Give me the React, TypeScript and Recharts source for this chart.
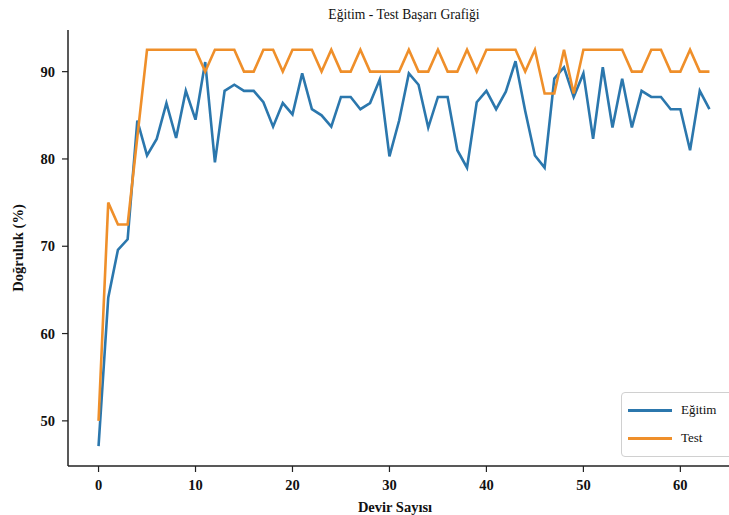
import React from "react";
import {
  LineChart,
  Line,
  XAxis,
  YAxis,
  Legend,
} from "recharts";

// epoch numbers 0..63
const epochs = [
  0, 1, 2, 3, 4, 5, 6, 7, 8, 9, 10, 11, 12, 13, 14, 15, 16, 17, 18, 19,
  20, 21, 22, 23, 24, 25, 26, 27, 28, 29, 30, 31, 32, 33, 34, 35, 36, 37, 38, 39,
  40, 41, 42, 43, 44, 45, 46, 47, 48, 49, 50, 51, 52, 53, 54, 55, 56, 57, 58, 59,
  60, 61, 62, 63,
];

// training accuracy (Eğitim)
const egitim = [
  47.1, 64.1, 69.6, 70.8, 84.4, 80.4, 82.3, 86.4, 82.4, 87.8,
  84.5, 91.1, 79.6, 87.8, 88.5, 87.8, 87.8, 86.5, 83.7, 86.4,
  85.1, 89.8, 85.7, 85.0, 83.7, 87.1, 87.1, 85.7, 86.4, 89.1,
  80.3, 84.4, 89.8, 88.5, 83.6, 87.1, 87.1, 81.0, 79.0, 86.5,
  87.8, 85.7, 87.7, 91.2, 85.5, 80.4, 79.0, 89.2, 90.5, 87.1,
  89.8, 82.3, 90.5, 83.6, 89.2, 83.6, 87.8, 87.1, 87.1, 85.7,
  85.7, 81.0, 87.8, 85.7,
];

// test accuracy
const test = [
  50, 75, 72.5, 72.5, 82.5, 92.5, 92.5, 92.5, 92.5, 92.5,
  92.5, 90, 92.5, 92.5, 92.5, 90, 90, 92.5, 92.5, 90,
  92.5, 92.5, 92.5, 90, 92.5, 90, 90, 92.5, 90, 90,
  90, 90, 92.5, 90, 90, 92.5, 90, 90, 92.5, 90,
  92.5, 92.5, 92.5, 92.5, 90, 92.5, 87.5, 87.5, 92.5, 87.5,
  92.5, 92.5, 92.5, 92.5, 92.5, 90, 90, 92.5, 92.5, 90,
  90, 92.5, 90, 90,
];

const xTicks = [0, 10, 20, 30, 40, 50, 60];
const yTicks = [50, 60, 70, 80, 90];

const BLUE = "#2b77ad";
const ORANGE = "#ef8f2a";
const FONT = "'Liberation Serif', 'Times New Roman', serif";
const tickStyle = { fontFamily: FONT, fontSize: 14.5, fontWeight: "bold", fill: "#111" };

const data = epochs.map((e, i) => ({ epoch: e, egitim: egitim[i], test: test[i] }));

const LegendBox = () => (
  <div
    style={{
      width: 112,
      height: 65,
      border: "1px solid #d0d0d0",
      borderRadius: 4,
      background: "rgba(255,255,255,0.85)",
      fontFamily: FONT,
      fontSize: 13,
      color: "#111",
      boxSizing: "border-box",
      paddingTop: 3,
    }}
  >
    {[
      { name: "Eğitim", color: BLUE },
      { name: "Test", color: ORANGE },
    ].map((it) => (
      <div key={it.name} style={{ display: "flex", alignItems: "center", height: 28, paddingLeft: 6 }}>
        <div style={{ width: 44, height: 3, background: it.color }} />
        <span style={{ marginLeft: 9 }}>{it.name}</span>
      </div>
    ))}
  </div>
);

const XLabel = (props: any) => {
  const vb = props.viewBox || {};
  return (
    <text
      x={vb.x + vb.width / 2 - 9}
      y={vb.y + 46}
      textAnchor="middle"
      style={tickStyle}
    >
      Devir Sayısı
    </text>
  );
};

export default function App() {
  return (
    <div
      style={{
        position: "absolute",
        left: 0,
        top: 0,
        width: 729,
        height: 515,
        overflow: "hidden",
        background: "#fff",
      }}
    >
      <div
        style={{
          position: "absolute",
          left: 68,
          width: 672,
          top: 7,
          textAlign: "center",
          fontFamily: FONT,
          fontSize: 13.6,
          color: "#111",
        }}
      >
        Eğitim - Test Başarı Grafiği
      </div>
      <LineChart
        width={760}
        height={515}
        data={data}
        margin={{ top: 30, right: 20, left: 0, bottom: 0 }}
      >
        <XAxis
          dataKey="epoch"
          type="number"
          domain={[-3.15, 66.15]}
          ticks={xTicks}
          allowDataOverflow
          height={49}
          tickSize={6}
          tickMargin={8}
          tick={tickStyle}
          axisLine={{ stroke: "#222", strokeWidth: 1.5 }}
          tickLine={{ stroke: "#222", strokeWidth: 1.2 }}
          label={{ content: <XLabel /> }}
        />
        <XAxis
          xAxisId="top"
          orientation="top"
          dataKey="epoch"
          type="number"
          domain={[-3.15, 66.15]}
          height={0}
          tick={false}
          tickLine={false}
          axisLine={{ stroke: "#222", strokeWidth: 1.5 }}
        />
        <YAxis
          type="number"
          domain={[44.83, 94.77]}
          ticks={yTicks}
          allowDataOverflow
          width={68}
          tickSize={6}
          tickMargin={7}
          tick={tickStyle}
          axisLine={{ stroke: "#222", strokeWidth: 1.5 }}
          tickLine={{ stroke: "#222", strokeWidth: 1.2 }}
          label={{
            value: "Doğruluk (%)",
            angle: -90,
            position: "insideLeft",
            offset: 18,
            style: { ...tickStyle, textAnchor: "middle" },
          }}
        />
        <Legend
          layout="horizontal"
          verticalAlign="middle"
          align="center"
          wrapperStyle={{ left: 621, top: 392, width: 112, height: 65 }}
          content={() => <LegendBox />}
        />
        <Line
          dataKey="egitim"
          name="Eğitim"
          type="linear"
          stroke={BLUE}
          strokeWidth={2.6}
          dot={false}
          isAnimationActive={false}
        />
        <Line
          dataKey="test"
          name="Test"
          type="linear"
          stroke={ORANGE}
          strokeWidth={2.6}
          dot={false}
          isAnimationActive={false}
        />
      </LineChart>
    </div>
  );
}
